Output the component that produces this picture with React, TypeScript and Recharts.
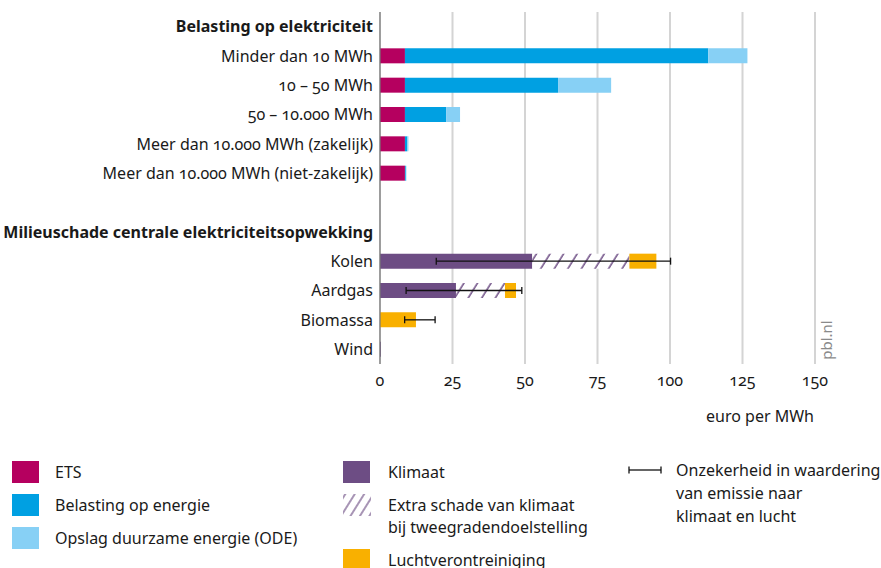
import { Bar, CartesianGrid, ComposedChart, ErrorBar, XAxis, YAxis } from "recharts";

const categories = [
  "Belasting op elektriciteit",
  "Minder dan 10 MWh",
  "10 – 50 MWh",
  "50 – 10.000 MWh",
  "Meer dan 10.000 MWh (zakelijk)",
  "Meer dan 10.000 MWh (niet-zakelijk)",
  "",
  "Milieuschade centrale elektriciteitsopwekking",
  "Kolen",
  "Aardgas",
  "Biomassa",
  "Wind",
];
const headers = ["Belasting op elektriciteit", "Milieuschade centrale elektriciteitsopwekking"];

const ets = [null, 8.6, 8.6, 8.6, 8.6, 8.6, null, null, null, null, null, null];
const belasting = [null, 104.6, 52.8, 14.2, 0.8, 0.3, null, null, null, null, null, null];
const ode = [null, 13.5, 18.3, 4.8, 0.4, 0.2, null, null, null, null, null, null];
const klimaat = [null, null, null, null, null, null, null, null, 52.5, 26.2, 0, 0.3];
const extraKlimaat = [null, null, null, null, null, null, null, null, 33.5, 16.9, 0, 0];
const lucht = [null, null, null, null, null, null, null, null, 9.3, 3.8, 12.4, 0];
const errLow = [null, null, null, null, null, null, null, null, 19.4, 9.0, 8.5, null];
const errHigh = [null, null, null, null, null, null, null, null, 100.2, 48.9, 19.0, null];

const xTicks = [0, 25, 50, 75, 100, 125, 150];

const colors = {
  ets: "#b5005f",
  belasting: "#00a0e2",
  ode: "#87d0f5",
  klimaat: "#6d4d84",
  lucht: "#f9b000",
};

const font = "'Noto Sans', 'Open Sans', sans-serif";
const textColor = "#1a1a1a";

const data = categories.map((name, i) => {
  const end = (klimaat[i] ?? 0) + (extraKlimaat[i] ?? 0) + (lucht[i] ?? 0);
  const lo = errLow[i];
  const hi = errHigh[i];
  return {
    name,
    ets: ets[i],
    belasting: belasting[i],
    ode: ode[i],
    klimaat: klimaat[i],
    extra: extraKlimaat[i],
    lucht: lucht[i],
    err: lo != null && hi != null ? [end - lo, hi - end] : null,
  };
});

function YTick(props: any) {
  const { x, y, payload } = props;
  const bold = headers.includes(payload.value);
  return (
    <text
      x={x}
      y={y}
      dy={5.5}
      textAnchor="end"
      fontSize={16}
      fontWeight={bold ? 700 : 400}
      fill={textColor}
      style={{ fontFamily: font, fontVariantNumeric: "oldstyle-nums" }}
    >
      {payload.value}
    </text>
  );
}

function Swatch({ color }: { color: string }) {
  return <div style={{ width: 27, height: 22, background: color }} />;
}

function HatchIcon() {
  return (
    <svg width={28} height={22} style={{ display: "block" }}>
      <rect width={28} height={22} fill="url(#hatchSmall)" />
    </svg>
  );
}

function ErrIcon() {
  return (
    <svg width={34} height={10} style={{ display: "block" }}>
      <line x1={1} y1={5} x2={33} y2={5} stroke="#111" strokeWidth={1.3} />
      <line x1={1} y1={1.5} x2={1} y2={8.5} stroke="#111" strokeWidth={1.3} />
      <line x1={33} y1={1.5} x2={33} y2={8.5} stroke="#111" strokeWidth={1.3} />
    </svg>
  );
}

const legendText: React.CSSProperties = {
  position: "absolute",
  fontSize: 16,
  lineHeight: "22px",
  color: textColor,
  fontFamily: font,
  whiteSpace: "nowrap",
};

export default function App() {
  return (
    <div
      style={{
        position: "absolute",
        left: 0,
        top: 0,
        width: 881,
        height: 568,
        overflow: "hidden",
        background: "#fff",
        fontFamily: font,
      }}
    >
      <svg width={0} height={0} style={{ position: "absolute" }}>
        <defs>
          <pattern
            id="hatch"
            patternUnits="userSpaceOnUse"
            width={11.5}
            height={11.5}
            patternTransform="rotate(32)"
          >
            <rect width={11.5} height={11.5} fill="#fff" />
            <line x1={3} y1={0} x2={3} y2={11.5} stroke={colors.klimaat} strokeWidth={1.5} />
          </pattern>
          <pattern
            id="hatchSmall"
            patternUnits="userSpaceOnUse"
            width={8}
            height={8}
            patternTransform="rotate(32)"
          >
            <rect width={8} height={8} fill="#fff" />
            <line x1={2} y1={0} x2={2} y2={8} stroke={colors.klimaat} strokeWidth={1.2} />
          </pattern>
        </defs>
      </svg>

      <ComposedChart
        width={881}
        height={400}
        data={data}
        layout="vertical"
        margin={{ top: 12, right: 66, left: 0, bottom: 0 }}
        barCategoryGap={0}
      >
        <CartesianGrid vertical horizontal={false} stroke="#d4d4d4" strokeWidth={2} />
        <XAxis
          type="number"
          domain={[0, 150]}
          ticks={xTicks}
          axisLine={false}
          tickLine={false}
          tickSize={6}
          tickMargin={5}
          height={36}
          tick={{
            fontSize: 16,
            fill: textColor,
            fontFamily: font,
            style: { fontVariantNumeric: "oldstyle-nums" },
          }}
        />
        <YAxis
          type="category"
          dataKey="name"
          width={380}
          axisLine={{ stroke: "#777", strokeWidth: 1.2 }}
          tickLine={false}
          tickSize={0}
          tickMargin={7}
          interval={0}
          tick={<YTick />}
        />
        <Bar dataKey="ets" stackId="a" fill={colors.ets} barSize={15} isAnimationActive={false} />
        <Bar dataKey="belasting" stackId="a" fill={colors.belasting} barSize={15} isAnimationActive={false} />
        <Bar dataKey="ode" stackId="a" fill={colors.ode} barSize={15} isAnimationActive={false} />
        <Bar dataKey="klimaat" stackId="a" fill={colors.klimaat} barSize={15} isAnimationActive={false} />
        <Bar dataKey="extra" stackId="a" fill="url(#hatch)" barSize={15} isAnimationActive={false} />
        <Bar dataKey="lucht" stackId="a" fill={colors.lucht} barSize={15} isAnimationActive={false}>
          <ErrorBar dataKey="err" direction="x" width={3.5} stroke="#111" strokeWidth={1.3} />
        </Bar>
      </ComposedChart>

      <div
        style={{
          position: "absolute",
          left: 0,
          top: 405,
          width: 814,
          textAlign: "right",
          fontSize: 16,
          lineHeight: "22px",
          color: textColor,
        }}
      >
        euro per MWh
      </div>
      <div
        style={{
          position: "absolute",
          left: 826,
          top: 340,
          transform: "translate(-50%, -50%) rotate(-90deg)",
          fontSize: 15,
          color: "#8a8a8a",
        }}
      >
        pbl.nl
      </div>

      {/* legend */}
      <div style={{ position: "absolute", left: 12, top: 461 }}>
        <Swatch color={colors.ets} />
      </div>
      <div style={{ ...legendText, left: 55, top: 461 }}>ETS</div>
      <div style={{ position: "absolute", left: 12, top: 494 }}>
        <Swatch color={colors.belasting} />
      </div>
      <div style={{ ...legendText, left: 55, top: 494 }}>Belasting op energie</div>
      <div style={{ position: "absolute", left: 12, top: 527 }}>
        <Swatch color={colors.ode} />
      </div>
      <div style={{ ...legendText, left: 55, top: 527 }}>Opslag duurzame energie (ODE)</div>

      <div style={{ position: "absolute", left: 343, top: 461 }}>
        <Swatch color={colors.klimaat} />
      </div>
      <div style={{ ...legendText, left: 388, top: 461 }}>Klimaat</div>
      <div style={{ position: "absolute", left: 343, top: 494 }}>
        <HatchIcon />
      </div>
      <div style={{ ...legendText, left: 388, top: 494 }}>
        Extra schade van klimaat
        <br />
        bij tweegradendoelstelling
      </div>
      <div style={{ position: "absolute", left: 343, top: 549 }}>
        <Swatch color={colors.lucht} />
      </div>
      <div style={{ ...legendText, left: 388, top: 549 }}>Luchtverontreiniging</div>

      <div style={{ position: "absolute", left: 628, top: 465 }}>
        <ErrIcon />
      </div>
      <div style={{ ...legendText, left: 676, top: 459, lineHeight: "23px" }}>
        Onzekerheid in waardering
        <br />
        van emissie naar
        <br />
        klimaat en lucht
      </div>
    </div>
  );
}
